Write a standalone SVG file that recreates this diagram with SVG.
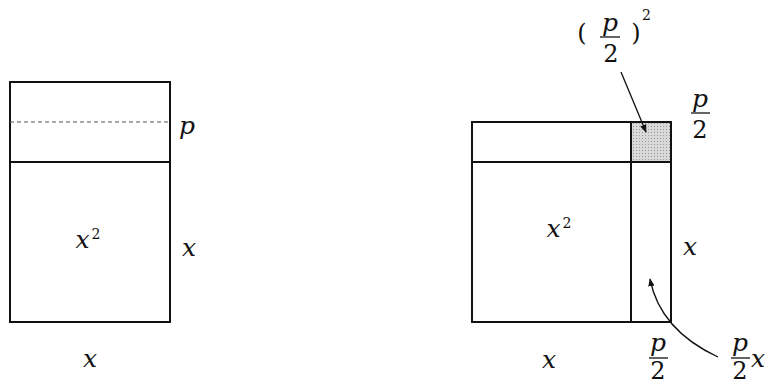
<svg xmlns="http://www.w3.org/2000/svg" width="775" height="389" viewBox="0 0 775 389">
<defs>
<style>
.box{fill:none;stroke:#111;stroke-width:2}
.ln{stroke:#111;stroke-width:2;fill:none}
.dash{stroke:#555;stroke-width:1.2;stroke-dasharray:4 3;fill:none}
.bar{stroke:#111;stroke-width:1.3}
text{font-family:'DejaVu Serif','Liberation Serif',serif}
.m{font-style:italic;font-size:25px;fill:#111;text-anchor:middle}
.n{font-size:24px;fill:#111;text-anchor:middle}
.sup{font-size:14px;fill:#111;font-style:normal}
.arr{stroke:#111;stroke-width:1.3;fill:none;marker-end:url(#ah)}
</style>
<marker id="ah" viewBox="0 0 10 10" refX="9" refY="5" markerWidth="8" markerHeight="8" markerUnits="userSpaceOnUse" orient="auto">
<path d="M0,1 L10,5 L0,9 Z" fill="#111"/>
</marker>
<pattern id="stip" width="3" height="3" patternUnits="userSpaceOnUse">
<rect width="3" height="3" fill="#d8d8d8"/>
<rect width="1" height="1" fill="#999"/>
</pattern>
</defs>

<g id="left-figure">
<rect class="box" x="10" y="82" width="160" height="240"/>
<line class="ln" x1="10" y1="162" x2="170" y2="162"/>
<line class="dash" x1="10" y1="122" x2="170" y2="122"/>
<text class="m" x="88" y="248">x<tspan class="sup" dx="2" dy="-9">2</tspan></text>
<text class="m" x="187" y="134">p</text>
<text class="m" x="189" y="256">x</text>
<text class="m" x="90" y="367">x</text>
</g>

<g id="right-figure">
<rect x="631" y="122" width="40" height="40" fill="url(#stip)"/>
<rect class="box" x="472" y="122" width="199" height="200"/>
<line class="ln" x1="472" y1="162" x2="671" y2="162"/>
<line class="ln" x1="631" y1="122" x2="631" y2="322"/>
<text class="m" x="559" y="237">x<tspan class="sup" dx="2" dy="-9">2</tspan></text>
<text class="m" x="690" y="255">x</text>
<text class="m" x="549" y="368">x</text>
</g>

<g id="label-top-right">
<text class="m" x="700" y="107">p</text>
<line class="bar" x1="691" y1="113" x2="710" y2="113"/>
<text class="n" x="700" y="138">2</text>
</g>

<g id="label-bottom-p2">
<text class="m" x="658" y="351">p</text>
<line class="bar" x1="649" y1="358" x2="668" y2="358"/>
<text class="n" x="658" y="379">2</text>
</g>

<g id="label-p2x">
<text class="m" x="740" y="351">p</text>
<line class="bar" x1="731" y1="358" x2="750" y2="358"/>
<text class="n" x="740" y="379">2</text>
<text class="m" x="758" y="367">x</text>
</g>

<g id="label-square">
<text class="n" x="582" y="41">(</text>
<text class="m" x="610" y="31">p</text>
<line class="bar" x1="600" y1="37" x2="620" y2="37"/>
<text class="n" x="611" y="62">2</text>
<text class="n" x="636" y="41">)</text>
<text class="sup" x="642" y="20" font-size="11">2</text>
</g>

<g id="connectors">
<line class="arr" x1="621" y1="72" x2="646" y2="132"/>
<path class="arr" d="M718,357 Q660,330 650,279"/>
</g>
</svg>
